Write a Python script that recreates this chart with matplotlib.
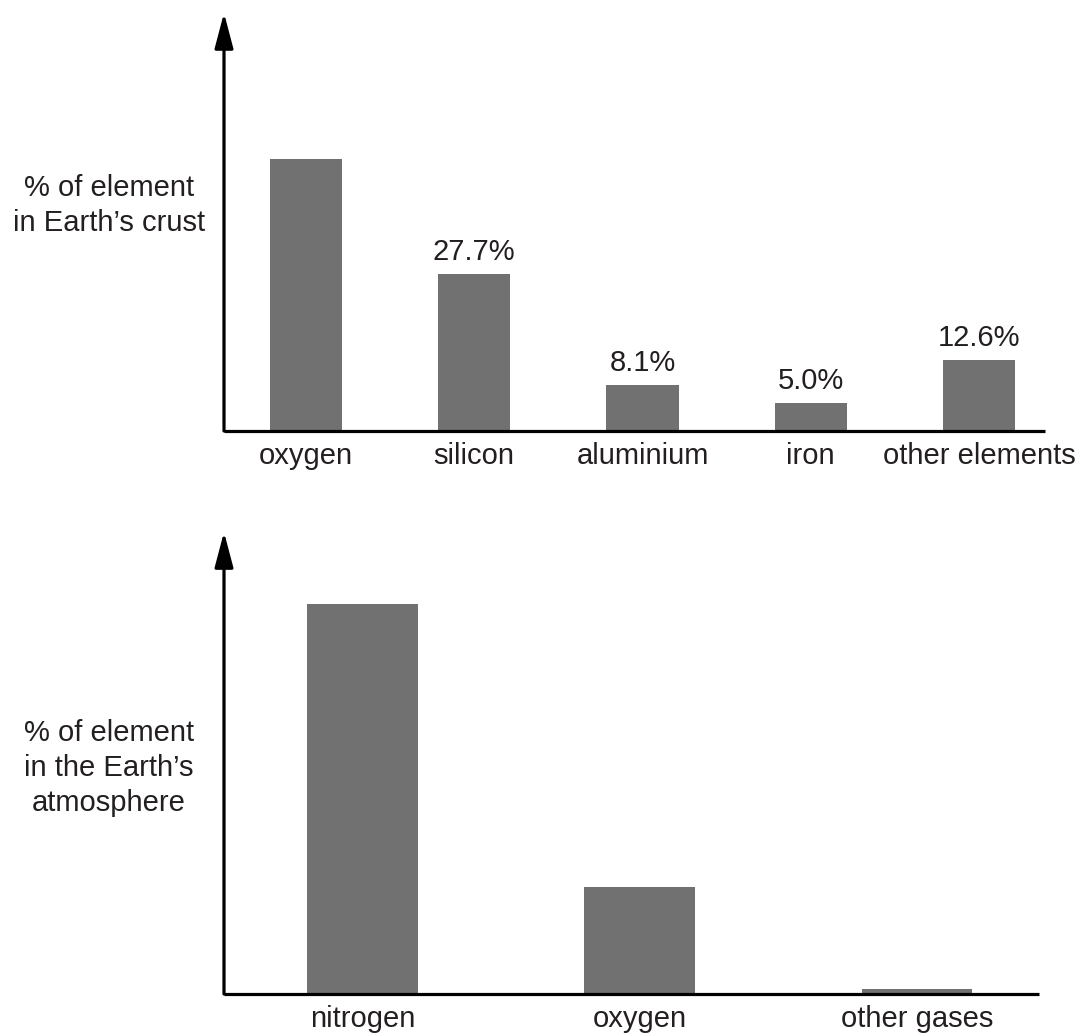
import matplotlib
matplotlib.use("Agg")
import matplotlib.pyplot as plt

plt.rcParams['font.family'] = ['Liberation Sans', 'DejaVu Sans']

# crust data (bar heights, labels as printed)
crust_names = ['oxygen', 'silicon', 'aluminium', 'iron', 'other elements']
crust_values = [48.0, 27.7, 8.1, 5.0, 12.6]
crust_labels = ['', '27.7%', '8.1%', '5.0%', '12.6%']

# atmosphere data
atmos_names = ['nitrogen', 'oxygen', 'other gases']
atmos_values = [78.0, 21.4, 1.0]

bar_col = '#717171'
ink = '#231f20'
fs = 21

fig = plt.figure(figsize=(10.79, 10.35), dpi=100)


def draw_axes(ax, ymax):
    for s in ax.spines.values():
        s.set_visible(False)
    ax.set_ylim(0, ymax)
    ax.set_yticks([])
    ax.tick_params(axis='x', length=0, pad=8, labelsize=fs, labelcolor=ink)
    # x axis line
    ax.plot([0, 1], [0, 0], transform=ax.transAxes, color='black', lw=2.3,
            clip_on=False, solid_capstyle='butt', zorder=5)
    # y axis with arrow head
    ax.annotate('', xy=(0, 1), xytext=(0, 0), xycoords='axes fraction',
                textcoords='axes fraction',
                arrowprops=dict(arrowstyle='-|>,head_length=21.6,head_width=5.7',
                                mutation_scale=1, color='black', lw=2.3,
                                shrinkA=0, shrinkB=0),
                annotation_clip=False)


# top chart
ax1 = fig.add_axes([0.2076, 0.5836, 0.7609, 0.4039])
ax1.bar(range(len(crust_names)), crust_values, width=0.428, color=bar_col, zorder=2)
ax1.set_xlim(-0.487, 4.392)
ax1.set_xticks(range(len(crust_names)))
ax1.set_xticklabels(crust_names)
draw_axes(ax1, 73.7)
for i, (v, lab) in enumerate(zip(crust_values, crust_labels)):
    if lab:
        ax1.annotate(lab, xy=(i, v), xytext=(0, 10), textcoords='offset points',
                     ha='center', va='baseline', fontsize=fs, color=ink)

fig.text(0.101, 0.8014, '% of element\nin Earth\u2019s crust', ha='center',
         va='center', fontsize=fs, color=ink, linespacing=1.32)

# bottom chart
ax2 = fig.add_axes([0.2076, 0.0396, 0.7553, 0.4464])
ax2.bar(range(len(atmos_names)), atmos_values, width=0.40, color=bar_col, zorder=2)
ax2.set_xlim(-0.5, 2.44)
ax2.set_xticks(range(len(atmos_names)))
ax2.set_xticklabels(atmos_names)
draw_axes(ax2, 92.4)

fig.text(0.101, 0.258, '% of element\nin the Earth\u2019s\natmosphere', ha='center',
         va='center', fontsize=fs, color=ink, linespacing=1.32)

fig.savefig('out.png', dpi=100)
